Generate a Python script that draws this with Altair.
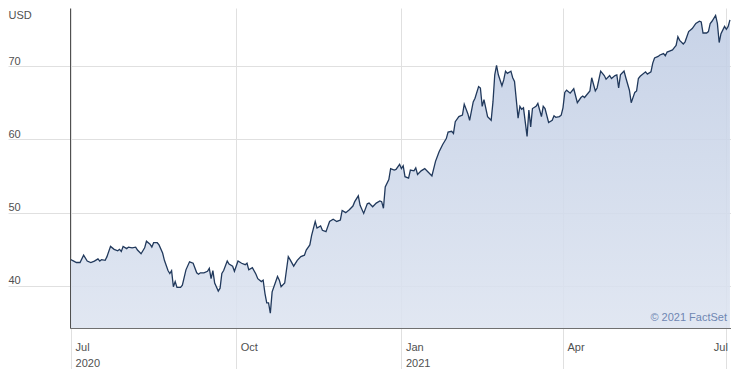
import altair as alt
import pandas as pd

dates = [
    "2020-07-01", "2020-07-02", "2020-07-04", "2020-07-06", "2020-07-08", "2020-07-10", "2020-07-12",
    "2020-07-14", "2020-07-16", "2020-07-17", "2020-07-18", "2020-07-20", "2020-07-21", "2020-07-23",
    "2020-07-25", "2020-07-27", "2020-07-28", "2020-07-29", "2020-07-30", "2020-08-01", "2020-08-02",
    "2020-08-04", "2020-08-06", "2020-08-07", "2020-08-09", "2020-08-11", "2020-08-12", "2020-08-14",
    "2020-08-15", "2020-08-16", "2020-08-18", "2020-08-19", "2020-08-21", "2020-08-22", "2020-08-24",
    "2020-08-25", "2020-08-26", "2020-08-27", "2020-08-28", "2020-08-29", "2020-08-31", "2020-09-01",
    "2020-09-03", "2020-09-05", "2020-09-07", "2020-09-09", "2020-09-10", "2020-09-11", "2020-09-13",
    "2020-09-15", "2020-09-16", "2020-09-17", "2020-09-18", "2020-09-19", "2020-09-21", "2020-09-22",
    "2020-09-23", "2020-09-24", "2020-09-26", "2020-09-27", "2020-09-29", "2020-09-30", "2020-10-02",
    "2020-10-04", "2020-10-06", "2020-10-07", "2020-10-08", "2020-10-10", "2020-10-12", "2020-10-13",
    "2020-10-15", "2020-10-16", "2020-10-17", "2020-10-18", "2020-10-19", "2020-10-20", "2020-10-21",
    "2020-10-24", "2020-10-25", "2020-10-26", "2020-10-28", "2020-10-30", "2020-10-31", "2020-11-02",
    "2020-11-04", "2020-11-06", "2020-11-08", "2020-11-09", "2020-11-11", "2020-11-12", "2020-11-14",
    "2020-11-15", "2020-11-17", "2020-11-18", "2020-11-20", "2020-11-22", "2020-11-24", "2020-11-26",
    "2020-11-28", "2020-11-29", "2020-12-01", "2020-12-03", "2020-12-05", "2020-12-06", "2020-12-08",
    "2020-12-09", "2020-12-11", "2020-12-13", "2020-12-14", "2020-12-16", "2020-12-18", "2020-12-20",
    "2020-12-21", "2020-12-22", "2020-12-23", "2020-12-25", "2020-12-26", "2020-12-28", "2020-12-29",
    "2020-12-31", "2021-01-01", "2021-01-02", "2021-01-03", "2021-01-05", "2021-01-06", "2021-01-08",
    "2021-01-09", "2021-01-10", "2021-01-12", "2021-01-14", "2021-01-16", "2021-01-18", "2021-01-20",
    "2021-01-22", "2021-01-24", "2021-01-26", "2021-01-27", "2021-01-29", "2021-01-30", "2021-01-31",
    "2021-02-02", "2021-02-04", "2021-02-05", "2021-02-07", "2021-02-08", "2021-02-10", "2021-02-11",
    "2021-02-13", "2021-02-14", "2021-02-15", "2021-02-16", "2021-02-18", "2021-02-20", "2021-02-21",
    "2021-02-22", "2021-02-23", "2021-02-24", "2021-02-26", "2021-02-27", "2021-02-28", "2021-03-01",
    "2021-03-03", "2021-03-04", "2021-03-05", "2021-03-07", "2021-03-08", "2021-03-09", "2021-03-10",
    "2021-03-12", "2021-03-13", "2021-03-14", "2021-03-15", "2021-03-17", "2021-03-18", "2021-03-19",
    "2021-03-20", "2021-03-21", "2021-03-22", "2021-03-24", "2021-03-26", "2021-03-27", "2021-03-28",
    "2021-03-30", "2021-03-31", "2021-04-01", "2021-04-02", "2021-04-03", "2021-04-05", "2021-04-07",
    "2021-04-09", "2021-04-11", "2021-04-12", "2021-04-13", "2021-04-16", "2021-04-17", "2021-04-19",
    "2021-04-20", "2021-04-22", "2021-04-24", "2021-04-25", "2021-04-27", "2021-04-28", "2021-04-30",
    "2021-05-01", "2021-05-02", "2021-05-03", "2021-05-05", "2021-05-06", "2021-05-08", "2021-05-09",
    "2021-05-11", "2021-05-12", "2021-05-13", "2021-05-14", "2021-05-15", "2021-05-17", "2021-05-18",
    "2021-05-20", "2021-05-21", "2021-05-22", "2021-05-24", "2021-05-25", "2021-05-27", "2021-05-28",
    "2021-05-29", "2021-05-30", "2021-06-01", "2021-06-02", "2021-06-03", "2021-06-04", "2021-06-05",
    "2021-06-07", "2021-06-08", "2021-06-10", "2021-06-12", "2021-06-14", "2021-06-16", "2021-06-17",
    "2021-06-18", "2021-06-20", "2021-06-21", "2021-06-22", "2021-06-23", "2021-06-25", "2021-06-26",
    "2021-06-27", "2021-06-28", "2021-06-30", "2021-07-01", "2021-07-02", "2021-07-03",
]

prices = [
    43.6, 43.45, 43.2, 43.2, 44.2, 43.4, 43.2,
    43.4, 43.7, 43.4, 43.6, 43.5, 44.0, 45.4,
    45.0, 44.8, 45.0, 44.7, 45.4, 45.1, 45.3,
    45.2, 45.3, 44.9, 44.4, 45.2, 46.1, 45.7,
    45.3, 45.9, 45.9, 45.6, 44.5, 43.5, 42.1,
    41.7, 42.1, 39.9, 40.6, 39.8, 39.8, 40.1,
    42.2, 43.3, 43.1, 41.8, 41.6, 41.8, 41.8,
    42.0, 42.4, 41.0, 42.1, 40.4, 39.3, 39.7,
    41.7, 42.1, 43.4, 43.0, 42.7, 42.0, 43.4,
    43.1, 42.9, 43.1, 42.2, 42.5, 41.6, 41.0,
    40.6, 40.8, 39.0, 37.7, 37.7, 36.3, 39.2,
    41.3, 40.8, 39.9, 40.4, 44.0, 43.6, 42.7,
    43.5, 44.0, 44.2, 44.9, 45.6, 46.9, 48.8,
    47.9, 48.2, 47.6, 47.4, 48.8, 49.1, 48.8,
    49.0, 50.3, 50.0, 50.4, 50.9, 51.5, 52.3,
    51.0, 49.9, 51.2, 51.3, 50.8, 51.3, 51.6,
    51.5, 50.6, 53.5, 54.5, 56.0, 55.8, 55.9,
    56.6, 56.0, 56.4, 54.9, 54.7, 55.8, 55.7,
    56.1, 55.2, 55.7, 56.0, 55.5, 55.0, 57.0,
    58.3, 59.3, 60.1, 61.0, 61.1, 60.8, 62.4,
    63.1, 63.3, 64.8, 63.5, 62.6, 65.1, 65.6,
    67.2, 67.0, 64.5, 65.4, 63.1, 62.6, 65.1,
    68.8, 70.1, 68.8, 67.3, 68.1, 69.3, 69.0,
    69.3, 68.4, 67.9, 62.9, 64.5, 64.1, 64.3,
    60.4, 64.0, 61.7, 64.2, 64.5, 64.9, 64.0,
    63.1, 64.5, 64.2, 62.3, 62.6, 63.2, 63.0,
    63.1, 63.3, 64.3, 66.4, 66.7, 66.3, 66.9,
    65.0, 65.7, 65.9, 65.7, 66.6, 68.4, 66.6,
    67.0, 69.3, 68.7, 68.2, 68.7, 68.3, 68.7,
    68.8, 67.0, 68.8, 69.3, 68.4, 66.7, 65.0,
    66.4, 66.6, 68.3, 68.6, 68.8, 69.2, 68.9,
    69.2, 70.4, 71.1, 71.3, 71.5, 71.7, 71.4,
    71.9, 72.0, 72.2, 72.5, 72.8, 74.0, 73.5,
    73.0, 73.3, 74.7, 75.1, 75.8, 76.1, 76.0,
    74.5, 74.5, 74.7, 75.8, 76.1, 76.9, 75.8,
    73.2, 74.4, 75.4, 75.0, 75.4, 76.3,
]

y_ticks = [40, 50, 60, 70]
x_tick_dates = [(2020, 7), (2020, 10), (2021, 1), (2021, 4), (2021, 7)]
currency = "USD"
credit = "© 2021 FactSet"

df = pd.DataFrame({"date": pd.to_datetime(dates), "price": prices})

FONT = "Liberation Sans"
LAST = "year(datum.value) == 2021 && month(datum.value) == 6"

x_enc = alt.X(
    "date:T",
    scale=alt.Scale(
        domain=[
            alt.DateTime(year=2020, month=6, date=30, hours=10),
            alt.DateTime(year=2021, month=7, date=3, hours=14),
        ]
    ),
    axis=alt.Axis(
        values=[alt.DateTime(year=yy, month=mm, date=1) for yy, mm in x_tick_dates],
        title=None,
        grid=True,
        gridColor="#e0e0e0",
        domainColor="#707070",
        tickColor="#e0e0e0",
        tickSize=41,
        labelPadding=-28,
        labelBaseline="top",
        labelLineHeight=16,
        labelFont=FONT,
        labelFontSize=11,
        labelColor="#505050",
        labelAlign={"condition": {"test": LAST, "value": "right"}, "value": "left"},
        labelOffset={"condition": {"test": LAST, "value": 1}, "value": 4},
        labelExpr=(
            "(month(datum.value) == 0 || (month(datum.value) == 6 && year(datum.value) == 2020))"
            " ? [timeFormat(datum.value, '%b'), timeFormat(datum.value, '%Y')]"
            " : timeFormat(datum.value, '%b')"
        ),
        labelOverlap=False,
    ),
)

y_enc = alt.Y(
    "price:Q",
    scale=alt.Scale(domain=[34.27, 77.91], nice=False, zero=False),
    axis=alt.Axis(
        values=y_ticks,
        title=currency,
        titleAngle=0,
        titleAlign="left",
        titleBaseline="top",
        titleX=-62,
        titleY=1,
        titleFont=FONT,
        titleFontSize=11,
        titleFontWeight="normal",
        titleColor="#505050",
        grid=True,
        gridColor="#e0e0e0",
        domainColor="#505050",
        tickColor="#e0e0e0",
        tickSize=62,
        labelPadding=0,
        labelAlign="left",
        labelBaseline="bottom",
        labelFont=FONT,
        labelFontSize=11,
        labelColor="#505050",
    ),
)

gradient = alt.Gradient(
    gradient="linear",
    stops=[
        alt.GradientStop(color="#f4f6fa", offset=0),
        alt.GradientStop(color="#c0cde4", offset=1),
    ],
    x1=1, x2=1, y1=1, y2=0,
)

base = alt.Chart(df).encode(x=x_enc, y=y_enc)

area = base.mark_area(color=gradient, opacity=0.88, clip=True)
line = base.mark_line(color="#21395c", strokeWidth=1.3, clip=True)

credit_text = alt.Chart(pd.DataFrame({"t": [credit]})).mark_text(
    align="right", baseline="middle", font=FONT, fontSize=11, color="#6f86b2"
).encode(x=alt.value(657), y=alt.value(310), text="t:N")

chart = (
    alt.layer(area, line, credit_text)
    .properties(
        width=661,
        height=320,
        padding={"left": 62, "top": 0, "right": 0, "bottom": 41},
        autosize=alt.AutoSizeParams(type="none"),
        background="white",
    )
    .configure_view(strokeWidth=0)
)

chart.save("out.html", embed_options={"renderer": "svg", "actions": False})
